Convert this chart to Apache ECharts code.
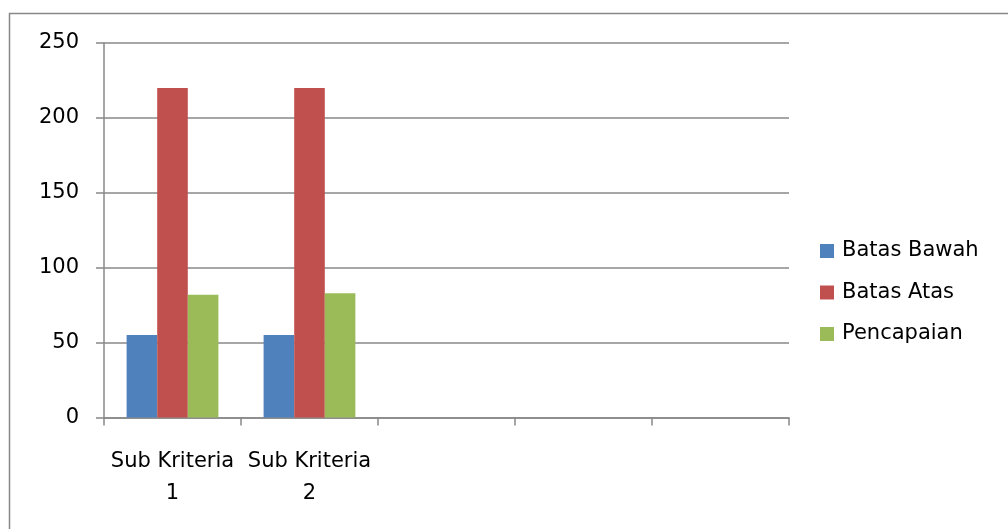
<!DOCTYPE html>
<html>
<head>
<meta charset="utf-8">
<script src="https://cdn.jsdelivr.net/npm/echarts@6/dist/echarts.min.js"></script>
<style>
html,body{margin:0;padding:0;background:#fff;}
#c{width:1008px;height:529px;}
</style>
</head>
<body>
<div id="c"></div>
<script>
const categories = ['Sub Kriteria\n1', 'Sub Kriteria\n2', '', '', ''];
const batasBawah = [55, 55, null, null, null];
const batasAtas = [220, 220, null, null, null];
const pencapaian = [82, 83, null, null, null];
const seriesNames = ['Batas Bawah', 'Batas Atas', 'Pencapaian'];
const colors = ['#4F81BD', '#C0504D', '#9BBB59'];
const yTicks = { min: 0, max: 250, interval: 50 };

const FONT = 'DejaVu Sans';
const GRAY = '#888888';
const chart = echarts.init(document.getElementById('c'), null, { renderer: 'canvas' });
chart.setOption({
  animation: false,
  backgroundColor: '#fff',
  color: colors,
  graphic: [{
    type: 'rect',
    shape: { x: 9.5, y: 13.5, width: 1100, height: 600 },
    style: { fill: 'none', stroke: GRAY, lineWidth: 1.5 },
    silent: true, z: -10
  }],
  grid: { left: 104, right: 219, top: 43, bottom: 111.5, containLabel: false },
  legend: {
    orient: 'vertical',
    left: 815, top: 235,
    itemWidth: 14, itemHeight: 14,
    itemGap: 19.5,
    icon: 'rect',
    textStyle: { fontFamily: FONT, fontSize: 21, color: '#000', padding: [0, 0, 0, 3], lineHeight: 22 },
    data: seriesNames
  },
  xAxis: {
    type: 'category',
    data: categories,
    boundaryGap: true,
    axisLine: { lineStyle: { color: GRAY, width: 1.5 } },
    axisTick: { show: true, length: 8, alignWithLabel: false, interval: 0, lineStyle: { color: GRAY, width: 1.5 } },
    axisLabel: { interval: 0, margin: 28, fontFamily: FONT, fontSize: 21, color: '#000', lineHeight: 32 },
    splitLine: { show: false }
  },
  yAxis: {
    type: 'value',
    min: yTicks.min, max: yTicks.max, interval: yTicks.interval,
    axisLine: { show: true, lineStyle: { color: GRAY, width: 1.5 } },
    axisTick: { show: true, length: 8, lineStyle: { color: GRAY, width: 1.5 } },
    axisLabel: { margin: 25, fontFamily: FONT, fontSize: 21, color: '#000' },
    splitLine: { show: true, lineStyle: { color: GRAY, width: 1.5 } }
  },
  series: [
    { name: seriesNames[0], type: 'bar', data: batasBawah, barGap: '0%', barCategoryGap: '33%' },
    { name: seriesNames[1], type: 'bar', data: batasAtas, barGap: '0%', barCategoryGap: '33%' },
    { name: seriesNames[2], type: 'bar', data: pencapaian, barGap: '0%', barCategoryGap: '33%' }
  ]
});
</script>
</body>
</html>
